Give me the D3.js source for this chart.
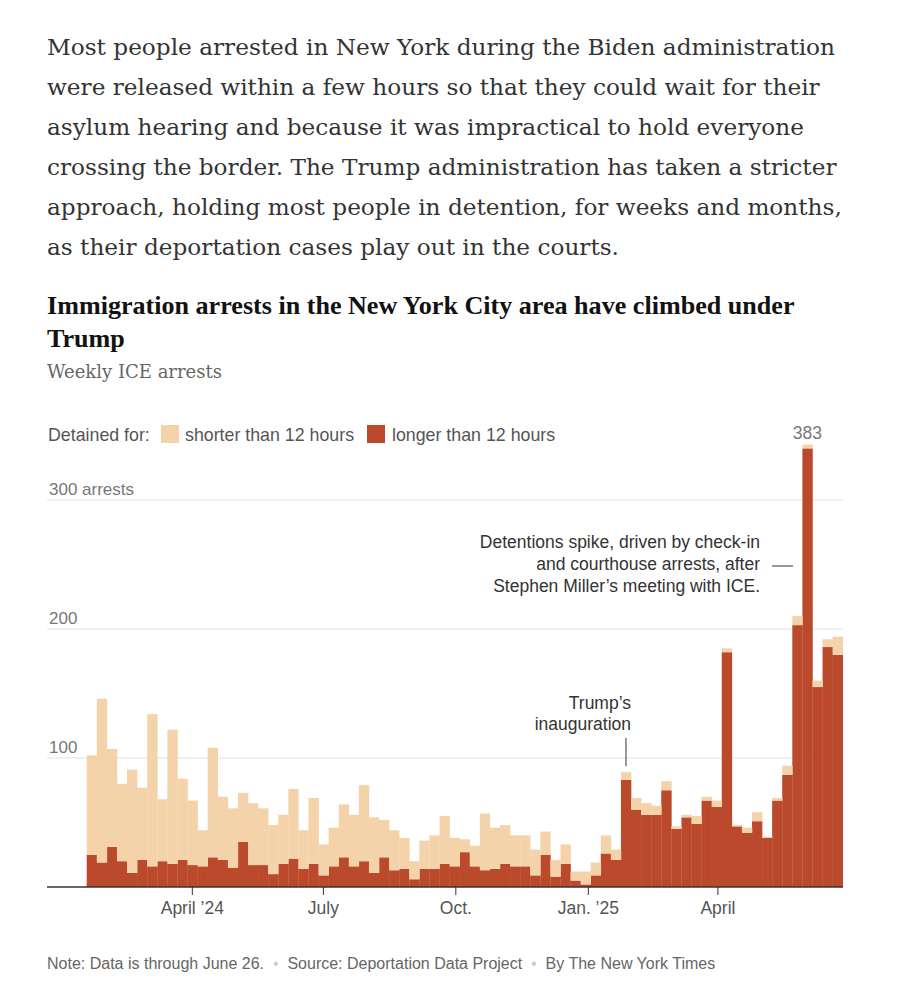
<!doctype html>
<html>
    <head>
        <meta charset="utf-8">
        <title>ICE arrests NYC</title>
        <script src="https://d3js.org/d3.v7.min.js"></script>
        <style>
            body { margin: 0; background: #fff; }
            text { font-family: "Liberation Sans", Arial, sans-serif; }
            .serif { font-family: "DejaVu Serif", serif; }
        </style>
    </head>

    <body>
        <div id="my_dataviz"></div>
        <script>
            // week start dates (one bar per week)
            var weeks = [
                "2024-01-19","2024-01-26","2024-02-02","2024-02-09","2024-02-16","2024-02-23",
                "2024-03-01","2024-03-08","2024-03-15","2024-03-22","2024-03-29","2024-04-05",
                "2024-04-12","2024-04-19","2024-04-26","2024-05-03","2024-05-10","2024-05-17",
                "2024-05-24","2024-05-31","2024-06-07","2024-06-14","2024-06-21","2024-06-28",
                "2024-07-05","2024-07-12","2024-07-19","2024-07-26","2024-08-02","2024-08-09",
                "2024-08-16","2024-08-23","2024-08-30","2024-09-06","2024-09-13","2024-09-20",
                "2024-09-27","2024-10-04","2024-10-11","2024-10-18","2024-10-25","2024-11-01",
                "2024-11-08","2024-11-15","2024-11-22","2024-11-29","2024-12-06","2024-12-13",
                "2024-12-20","2024-12-27","2025-01-03","2025-01-10","2025-01-17","2025-01-24",
                "2025-01-31","2025-02-07","2025-02-14","2025-02-21","2025-02-28","2025-03-07",
                "2025-03-14","2025-03-21","2025-03-28","2025-04-04","2025-04-11","2025-04-18",
                "2025-04-25","2025-05-02","2025-05-09","2025-05-16","2025-05-23","2025-05-30",
                "2025-06-06","2025-06-13","2025-06-20"
            ];

            // detained longer than 12 hours
            var longer = [
                25, 19, 31, 20, 11, 21, 16, 20, 18, 21, 17, 16, 23, 21, 15, 35, 17, 17, 10, 18,
                22, 14, 18, 9, 16, 23, 16, 20, 11, 23, 13, 14, 6, 14, 14, 18, 16, 27, 16, 13,
                14, 18, 16, 16, 9, 25, 8, 18, 5, 2, 9, 26, 21, 83, 60, 56, 56, 75, 45, 54,
                49, 67, 62, 182, 47, 42, 51, 38, 67, 87, 203, 340, 155, 186, 180
            ];

            // detained shorter than 12 hours
            var shorter = [
                77, 127, 76, 60, 80, 56, 118, 48, 104, 63, 50, 28, 85, 49, 46, 38, 48, 44, 38, 38,
                54, 30, 51, 24, 30, 41, 40, 59, 43, 29, 31, 24, 14, 22, 26, 37, 22, 10, 16, 44,
                32, 30, 24, 24, 20, 18, 13, 15, 7, 10, 10, 14, 8, 6, 9, 9, 7, 7, 2, 2,
                6, 3, 5, 3, 1, 4, 7, 1, 2, 7, 7, 3, 5, 6, 14
            ];

            var yTicks = [100, 200, 300];
            var xTicks = ["2024-04-01", "2024-07-01", "2024-10-01", "2025-01-01", "2025-04-01"];
            var xTickLabels = ["April \u201924", "July", "Oct.", "Jan. \u201925", "April"];

            var paragraph = [
                "Most people arrested in New York during the Biden administration",
                "were released within a few hours so that they could wait for their",
                "asylum hearing and because it was impractical to hold everyone",
                "crossing the border. The Trump administration has taken a stricter",
                "approach, holding most people in detention, for weeks and months,",
                "as their deportation cases play out in the courts."
            ];

            var lightColor = "#f5d3aa",
                darkColor = "#bb4a2c";

            var width = 914, height = 1000;

            var svg = d3.select("#my_dataviz")
            .append("svg")
                .attr("width", width)
                .attr("height", height);

            // intro paragraph
            svg.append("g")
                .selectAll("text")
                .data(paragraph)
                .enter().append("text")
                    .attr("class", "serif")
                    .attr("x", 47)
                    .attr("y", function(d, i) { return 55 + i * 40; })
                    .attr("font-size", 23.2)
                    .attr("fill", "#333")
                    .text(function(d) { return d; });

            // title + subtitle
            var title = svg.append("g");
            title.append("text")
                .attr("x", 47).attr("y", 314)
                .style("font-family", "'Liberation Serif', serif")
                .attr("font-weight", "bold")
                .attr("font-size", 26.1)
                .attr("fill", "#121212")
                .text("Immigration arrests in the New York City area have climbed under");
            title.append("text")
                .attr("x", 47).attr("y", 347)
                .style("font-family", "'Liberation Serif', serif")
                .attr("font-weight", "bold")
                .attr("font-size", 26.1)
                .attr("fill", "#121212")
                .text("Trump");
            title.append("text")
                .attr("class", "serif")
                .attr("x", 47).attr("y", 378)
                .attr("font-size", 18)
                .attr("fill", "#666")
                .text("Weekly ICE arrests");

            // legend
            var legend = svg.append("g").attr("font-size", 17.8).attr("fill", "#555");
            legend.append("text").attr("x", 48).attr("y", 441).text("Detained for:");
            legend.append("rect").attr("x", 161).attr("y", 425).attr("width", 18).attr("height", 18).attr("fill", lightColor);
            legend.append("text").attr("x", 185).attr("y", 441).text("shorter than 12 hours");
            legend.append("rect").attr("x", 367).attr("y", 425).attr("width", 18).attr("height", 18).attr("fill", darkColor);
            legend.append("text").attr("x", 392).attr("y", 441).text("longer than 12 hours");

            // scales
            var parse = d3.timeParse("%Y-%m-%d");
            var data = weeks.map(function(w, i) {
                return {date: parse(w), longer: longer[i], shorter: shorter[i]};
            });
            var lastEnd = d3.timeDay.offset(data[data.length - 1].date, 7);

            var x = d3.scaleTime()
                .domain([data[0].date, lastEnd])
                .range([86.7, 842.7]);

            var y = d3.scaleLinear()
                .domain([0, 300])
                .range([887, 500]);

            // gridlines
            var grid = svg.append("g");
            grid.selectAll("line")
                .data(yTicks)
                .enter().append("line")
                    .attr("x1", 47).attr("x2", 843)
                    .attr("y1", function(d) { return y(d); })
                    .attr("y2", function(d) { return y(d); })
                    .attr("stroke", "#e2e2e2")
                    .attr("stroke-width", 1);
            grid.selectAll("text")
                .data(yTicks)
                .enter().append("text")
                    .attr("x", 49)
                    .attr("y", function(d) { return y(d) - 5; })
                    .attr("font-size", 17)
                    .attr("fill", "#777")
                    .text(function(d) { return d === 300 ? "300 arrests" : d; });

            // stacked bars
            var stack = d3.stack().keys(["longer", "shorter"]);
            var series = stack(data);
            var colors = {longer: darkColor, shorter: lightColor};

            svg.append("g")
                .selectAll("g")
                .data(series)
                .enter().append("g")
                    .attr("fill", function(d) { return colors[d.key]; })
                .selectAll("rect")
                .data(function(d) { return d; })
                .enter().append("rect")
                    .attr("x", function(d) { return x(d.data.date); })
                    .attr("width", function(d) { return x(d3.timeDay.offset(d.data.date, 7)) - x(d.data.date) + 0.3; })
                    .attr("y", function(d) { return y(d[1]); })
                    .attr("height", function(d) { return y(d[0]) - y(d[1]); });

            // x axis
            var xAxis = svg.append("g")
                .attr("transform", "translate(0,887)")
                .call(d3.axisBottom(x)
                    .tickValues(xTicks.map(parse))
                    .tickSize(8)
                    .tickFormat(function(d, i) { return xTickLabels[i]; }));
            xAxis.select(".domain").remove();
            xAxis.selectAll(".tick line").attr("stroke", "#333");
            xAxis.selectAll(".tick text")
                .attr("y", 15)
                .attr("font-size", 17.5)
                .attr("fill", "#555")
                .style("font-family", "'Liberation Sans', Arial, sans-serif");
            svg.append("line")
                .attr("x1", 47).attr("x2", 843)
                .attr("y1", 887).attr("y2", 887)
                .attr("stroke", "#333")
                .attr("stroke-width", 1.5);

            // annotations
            var inaug = data[53];
            var inaugX = x(inaug.date) + (x(d3.timeDay.offset(inaug.date, 7)) - x(inaug.date)) / 2;
            var ann = svg.append("g").attr("font-size", 17.5).attr("fill", "#333");
            ann.append("text").attr("x", 631).attr("y", 709).attr("text-anchor", "end").text("Trump\u2019s");
            ann.append("text").attr("x", 631).attr("y", 730).attr("text-anchor", "end").text("inauguration");
            ann.append("line")
                .attr("x1", inaugX).attr("x2", inaugX)
                .attr("y1", 738).attr("y2", y(inaug.longer + inaug.shorter) - 6)
                .attr("stroke", "#333");

            var spike = ["Detentions spike, driven by check-in",
                         "and courthouse arrests, after",
                         "Stephen Miller\u2019s meeting with ICE."];
            ann.selectAll(".spike")
                .data(spike)
                .enter().append("text")
                    .attr("class", "spike")
                    .attr("x", 760)
                    .attr("y", function(d, i) { return 548 + i * 22; })
                    .attr("text-anchor", "end")
                    .text(function(d) { return d; });
            ann.append("line")
                .attr("x1", 772).attr("x2", 793)
                .attr("y1", 566).attr("y2", 566)
                .attr("stroke", "#333");

            var peak = data[71];
            svg.append("text")
                .attr("x", x(peak.date) + 5)
                .attr("y", 439)
                .attr("text-anchor", "middle")
                .attr("font-size", 17.5)
                .attr("fill", "#777")
                .text("383");

            // footer
            var foot = svg.append("text")
                .attr("x", 47).attr("y", 969)
                .attr("font-size", 16)
                .attr("fill", "#666")
                .attr("xml:space", "preserve");
            foot.append("tspan").text("Note: Data is through June 26.");
            foot.append("tspan").attr("fill", "#ccc").text("  \u2022  ");
            foot.append("tspan").text("Source: Deportation Data Project");
            foot.append("tspan").attr("fill", "#ccc").text("  \u2022  ");
            foot.append("tspan").text("By The New York Times");
        </script>
    </body>
</html>
